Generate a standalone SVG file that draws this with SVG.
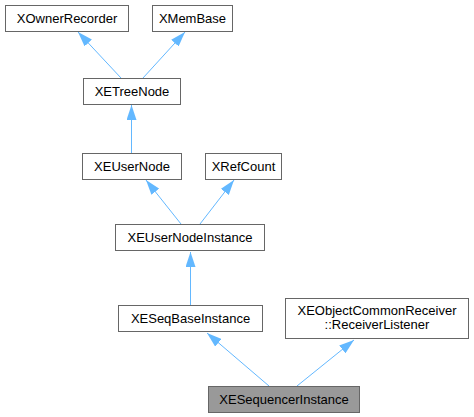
<svg xmlns="http://www.w3.org/2000/svg" width="474" height="417" viewBox="0 0 474 417">
<style>
.n rect{fill:#ffffff;stroke:#666666;stroke-width:1}
.n text{font-family:"Liberation Sans",Arial,sans-serif;font-size:13px;fill:#000000;text-anchor:middle}
#n_seq rect{fill:#999999}
.e line{stroke:#63b8ff;stroke-width:1;marker-end:url(#ah)}
</style>
<defs>
<marker id="ah" viewBox="0 0 15 10" refX="15" refY="5" markerWidth="15" markerHeight="10" markerUnits="userSpaceOnUse" orient="auto">
<path d="M0,0 L15,5 L0,10 z" fill="#63b8ff"/>
</marker>
</defs>
<rect width="474" height="417" fill="#ffffff"/>
<g id="edges" class="e">
<line x1="121" y1="78" x2="78" y2="32"/>
<line x1="143" y1="78" x2="185" y2="32"/>
<line x1="131.5" y1="153" x2="131.5" y2="105"/>
<line x1="181" y1="224" x2="146" y2="180"/>
<line x1="200" y1="224" x2="234" y2="180"/>
<line x1="190.5" y1="305" x2="190.5" y2="252"/>
<line x1="269" y1="386" x2="207" y2="333"/>
<line x1="297" y1="386" x2="354" y2="340"/>
</g>
<g id="n_owner" class="n"><rect x="5.5" y="5.5" width="123" height="26"/><text x="67" y="23">XOwnerRecorder</text></g>
<g id="n_mem" class="n"><rect x="152.5" y="5.5" width="80" height="26"/><text x="192.5" y="23">XMemBase</text></g>
<g id="n_tree" class="n"><rect x="83.5" y="78.5" width="97" height="26"/><text x="132" y="96">XETreeNode</text></g>
<g id="n_user" class="n"><rect x="82.5" y="153.5" width="99" height="26"/><text x="132" y="171">XEUserNode</text></g>
<g id="n_ref" class="n"><rect x="205.5" y="153.5" width="76" height="26"/><text x="243.5" y="171">XRefCount</text></g>
<g id="n_uni" class="n"><rect x="115.5" y="224.5" width="149" height="26"/><text x="190" y="242">XEUserNodeInstance</text></g>
<g id="n_sbi" class="n"><rect x="118.5" y="305.5" width="144" height="26"/><text x="190.5" y="323">XESeqBaseInstance</text></g>
<g id="n_ocr" class="n"><rect x="285.5" y="298.5" width="183" height="40"/><text x="377" y="315">XEObjectCommonReceiver</text><text x="377" y="329">::ReceiverListener</text></g>
<g id="n_seq" class="n"><rect x="208.5" y="386.5" width="151" height="26"/><text x="284" y="404">XESequencerInstance</text></g>
</svg>
